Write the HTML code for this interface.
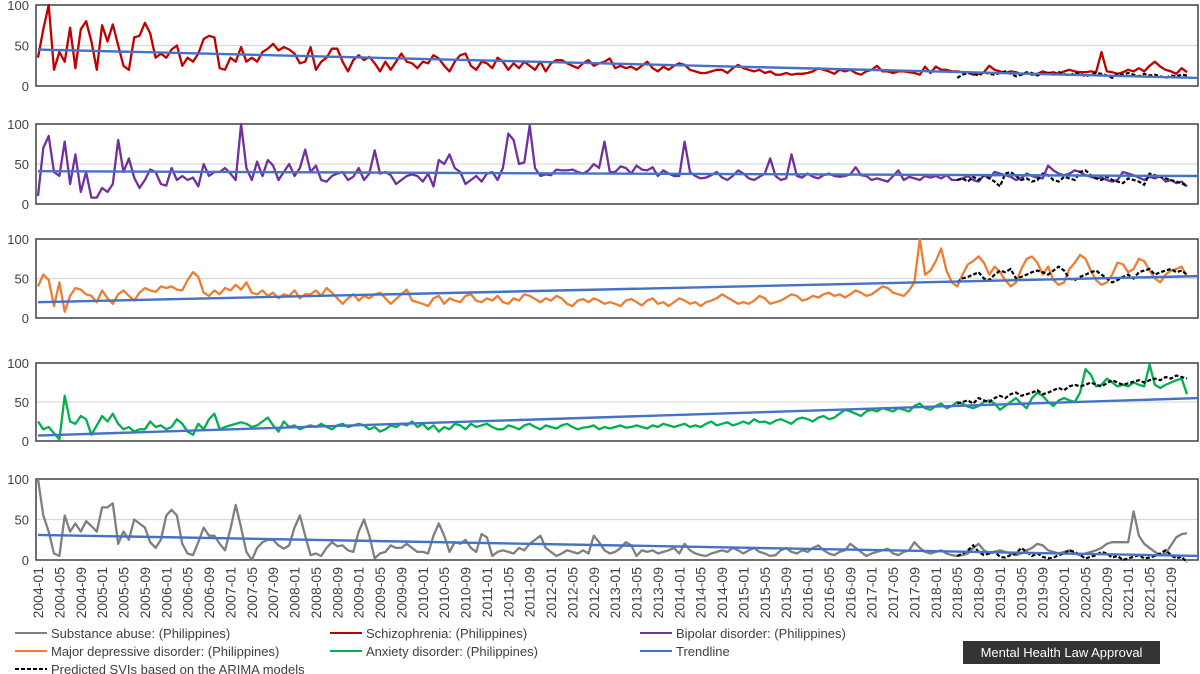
<!DOCTYPE html>
<html><head><meta charset="utf-8"><style>
body{margin:0;background:#fff;}
svg{display:block;font-family:"Liberation Sans",sans-serif;}
</style></head><body>
<svg id="chart" width="1200" height="674" viewBox="0 0 1200 674"></svg>
<script>
const years = [2004,2005,2006,2007,2008,2009,2010,2011,2012,2013,2014,2015,2016,2017,2018,2019,2020,2021];
const schizophrenia = [
35,70,100,20,42,30,72,22,70,80,55,20, 75,55,76,50,25,20,60,62,78,65,35,40,
35,45,50,25,35,30,40,58,62,60,22,20, 35,30,48,30,35,30,42,46,52,44,48,45,
40,28,30,48,20,30,35,46,46,30,18,32, 38,32,36,28,18,30,20,30,40,30,28,22,
30,28,38,34,25,18,30,38,40,25,20,30, 28,22,35,30,20,28,22,30,25,20,30,18,
28,32,32,28,25,22,28,32,25,28,30,34, 22,25,22,24,20,25,30,22,18,24,20,25,
28,26,20,18,16,16,18,20,20,16,22,26, 22,20,18,20,16,18,14,14,16,14,15,15,
16,18,22,20,18,15,20,18,20,16,14,18, 20,25,18,18,16,18,18,17,16,14,24,16,
24,20,20,18,18,17,17,14,15,17,25,20, 18,16,18,17,14,16,14,15,18,16,17,15,
18,20,18,17,17,18,17,42,18,17,15,17, 20,18,22,18,25,30,24,20,18,15,22,17];
const bipolar = [
10,70,85,40,35,78,25,62,15,40,8,8, 20,15,25,80,40,57,33,20,30,43,40,25,
23,45,30,35,30,33,22,50,35,40,40,45, 38,30,100,45,30,53,35,55,48,30,40,50,
35,45,68,40,48,30,28,35,38,40,30,34, 45,30,38,67,38,40,36,25,30,35,37,35,
28,38,22,55,50,62,45,40,25,30,35,28, 38,40,30,45,88,80,50,52,98,45,35,37,
36,43,42,42,43,40,38,42,50,45,78,40, 40,47,45,38,48,43,42,46,35,42,38,35,
35,78,40,35,32,33,36,40,33,30,35,42, 38,32,30,34,38,57,35,30,32,62,35,33,
38,34,32,36,38,35,34,35,37,46,36,35, 30,32,30,28,35,42,30,34,32,30,35,33,
35,32,36,30,30,32,35,30,28,36,32,40, 38,36,34,30,32,38,35,33,32,48,42,38,
36,38,42,40,36,34,32,33,30,28,30,40, 38,36,33,30,34,32,35,28,30,26,28,22];
const depression = [
40,55,48,15,45,8,28,38,36,30,28,20, 35,25,18,30,35,28,22,32,38,35,33,40,
38,40,36,35,48,58,52,32,28,35,30,38, 35,42,36,45,32,30,35,28,32,25,30,28,
35,25,30,30,35,28,38,32,25,18,25,30, 22,28,25,30,32,25,18,24,30,36,22,20,
18,15,25,28,18,25,22,20,28,30,22,20, 25,22,28,20,18,25,22,30,28,24,20,25,
22,28,25,18,15,22,24,20,25,22,18,20, 18,15,22,24,20,16,22,25,18,20,15,20,
25,22,18,20,15,20,22,25,30,26,22,18, 20,18,22,28,25,18,20,22,26,30,28,22,
24,28,26,30,32,28,30,26,30,35,32,28, 30,35,40,38,32,30,28,35,45,100,55,60,
72,88,60,45,40,55,68,72,78,70,55,65, 58,48,40,45,62,75,78,70,55,65,48,42,
45,62,70,80,75,60,48,42,45,55,70,68, 58,62,75,72,60,50,45,55,60,62,65,52];
const anxiety = [
25,15,18,10,2,58,25,22,32,28,8,20, 32,25,35,22,15,18,12,15,15,25,18,20,
15,18,28,22,12,8,22,15,28,35,15,18, 20,22,24,22,18,20,25,30,20,12,25,18,
20,15,18,20,18,22,18,15,20,22,18,20, 22,20,15,18,12,15,20,18,22,20,25,18,
22,15,20,12,18,15,22,20,15,22,18,20, 22,18,15,15,20,18,15,20,22,18,15,20,
18,16,20,22,18,15,17,18,20,15,18,16, 18,20,17,18,20,18,16,20,18,22,20,18,
20,22,18,20,18,22,25,20,22,24,20,22, 25,22,28,24,25,22,26,28,25,22,28,30,
28,25,30,32,28,30,35,40,38,35,32,38, 40,38,42,40,38,42,40,38,45,48,42,40,
45,48,42,45,50,48,44,42,45,50,52,48, 40,45,50,55,48,42,55,62,58,50,45,52,
55,52,50,62,92,85,70,72,80,75,70,72, 70,75,72,70,98,72,68,72,75,78,80,60];
const substance = [
100,55,35,8,5,55,35,45,35,48,42,35, 65,65,70,20,35,25,50,45,40,22,15,25,
55,62,55,20,8,6,22,40,30,30,20,12, 38,68,40,10,0,15,22,25,25,18,14,18,
40,55,30,6,8,5,15,22,17,18,12,10, 35,50,30,2,8,10,18,15,15,20,15,10,
10,8,30,45,30,10,22,20,25,15,10,32, 28,5,10,12,10,8,15,12,20,25,30,15,
10,5,8,12,10,8,12,8,30,22,12,8, 10,15,22,18,5,12,10,12,8,10,12,15,
8,20,12,8,6,5,8,10,12,10,15,12, 8,12,15,10,8,5,6,12,15,10,8,12,
10,15,18,12,8,6,10,12,20,15,10,5, 8,10,12,14,8,6,10,12,22,15,10,8,
10,12,8,6,5,6,8,15,20,12,8,10, 12,10,8,6,8,12,15,20,18,12,10,8,
10,12,8,6,8,10,12,15,20,22,22,22, 22,60,30,20,15,10,6,8,18,28,32,33];
const predSchizo = [10,14,16,15,13,17,15,14,16,18,15,12,14,17,16,13,15,16,14,17,15,13,16,15,12,14,16,15,13,10,15,14,16,14,12,15,13,14,12,10,13,12,14,13];
const predBipolar = [30,32,28,34,30,36,32,28,22,38,40,35,30,32,28,30,38,36,30,28,34,32,30,40,42,36,32,30,34,30,28,26,32,30,28,24,38,36,34,32,30,28,26,22];
const predDepression = [45,50,52,55,58,50,48,55,60,58,62,50,52,55,58,60,58,55,60,65,60,50,48,52,55,58,60,55,50,45,48,52,55,50,58,60,62,55,58,60,62,58,60,55];
const predAnxiety = [48,50,52,48,55,52,50,55,58,55,60,62,58,60,62,65,60,62,65,68,65,70,72,70,72,75,72,70,74,78,75,72,74,76,78,75,78,80,78,82,80,84,82,80];
const predSubstance = [5,8,12,18,10,6,8,10,4,3,6,8,15,10,5,8,4,2,3,6,8,12,10,6,2,4,6,10,8,3,5,0,2,4,6,2,3,5,8,12,6,2,4,-3];
const trendStart = [45,41,20,7,31];
const trendEnd = [10,35,53,55,5];

const NS='http://www.w3.org/2000/svg';
const svg=document.getElementById('chart');
function mk(tag,attrs,parent){const e=document.createElementNS(NS,tag);for(const k in attrs)e.setAttribute(k,attrs[k]);(parent||svg).appendChild(e);return e;}
const N=216, x0=38, x1=1187;
const xs=i=>x0+i*(x1-x0)/(N-1);
const panels=[
 {name:'schizophrenia',top:5,bot:86,data:schizophrenia,pred:predSchizo,color:'#c00000'},
 {name:'bipolar',top:124,bot:204,data:bipolar,pred:predBipolar,color:'#7030a0'},
 {name:'depression',top:239,bot:318,data:depression,pred:predDepression,color:'#ed7d31'},
 {name:'anxiety',top:363,bot:441,data:anxiety,pred:predAnxiety,color:'#00b050'},
 {name:'substance',top:479,bot:560,data:substance,pred:predSubstance,color:'#7f7f7f'}];
panels.forEach((p,pi)=>{
 const g=mk('g',{});
 
 
 const ys=v=>p.bot-v/100*(p.bot-p.top);
 const grid=mk('line',{x1:36,x2:1198,y1:ys(50),y2:ys(50),stroke:'#d9d9d9','stroke-width':1.2},g);
 
 
 [0,50,100].forEach(t=>{
  const tx=mk('text',{x:29,y:ys(t)+5,'text-anchor':'end','font-size':13,fill:'#404040'},g);
  tx.textContent=t;
  
  
 });
 const fr=mk('rect',{x:36,y:p.top,width:1162,height:p.bot-p.top,fill:'none',stroke:'#404040','stroke-width':1.5},g);
 
 
 const pts=p.data.map((v,i)=>xs(i).toFixed(1)+','+ys(v).toFixed(1)).join(' ');
 const line=mk('polyline',{points:pts,fill:'none',stroke:p.color,'stroke-width':2.3,'stroke-linejoin':'round'},g);
 
 
 const off=N-p.pred.length;
 const pp=p.pred.map((v,i)=>xs(off+i).toFixed(1)+','+ys(v).toFixed(1)).join(' ');
 const pl=mk('polyline',{points:pp,fill:'none',stroke:'#000','stroke-width':2.2,'stroke-dasharray':'4,2'},g);
 
 
 const tl=mk('line',{x1:xs(0),x2:1198,y1:ys(trendStart[pi]),y2:ys(trendEnd[pi]),stroke:'#4472c4','stroke-width':2.4},g);
 
 
});
for(let i=0;i<N;i+=4){
 const y=years[Math.floor(i/12)], m=(i%12)+1;
 const lab=y+'-'+(m<10?'0':'')+m;
 const t=mk('text',{x:0,y:0,'text-anchor':'end','font-size':14,fill:'#404040',transform:`translate(${(xs(i)+5).toFixed(1)},567) rotate(-90)`});
 t.textContent=lab;
 
 
}
const legend=[
 ['Substance abuse: (Philippines)','#7f7f7f',15,633,false],
 ['Schizophrenia: (Philippines)','#c00000',330,633,false],
 ['Bipolar disorder: (Philippines)','#7030a0',640,633,false],
 ['Major depressive disorder: (Philippines)','#ed7d31',15,651,false],
 ['Anxiety disorder: (Philippines)','#00b050',330,651,false],
 ['Trendline','#4472c4',640,651,false],
 ['Predicted SVIs based on the ARIMA models','#000',15,669,true]];
legend.forEach(l=>{
 const g=mk('g',{});
 
 
 const a={x1:l[2],x2:l[2]+32,y1:l[3],y2:l[3],stroke:l[1],'stroke-width':2};
 if(l[4])a['stroke-dasharray']='4,2';
 mk('line',a,g);
 const t=mk('text',{x:l[2]+36,y:l[3]+5,'font-size':13,fill:'#404040'},g);
 t.textContent=l[0];
});
const bx=mk('g',{});


mk('rect',{x:963,y:641,width:197,height:23,fill:'#333'},bx);
const bt=mk('text',{x:1061.5,y:657,'text-anchor':'middle','font-size':13,fill:'#fff'},bx);
bt.textContent='Mental Health Law Approval';
</script>
</body></html>
